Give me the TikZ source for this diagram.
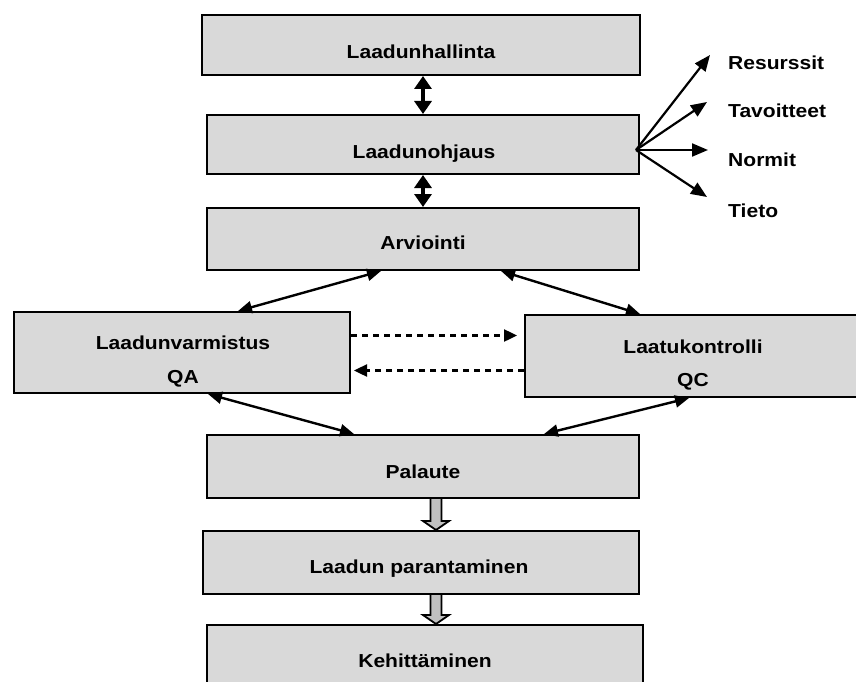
\documentclass[tikz,border=0pt]{standalone}
\usepackage{fontspec}
\setmainfont{Liberation Sans}[FakeStretch=1.12]
\usetikzlibrary{arrows.meta,calc}
\definecolor{boxgray}{RGB}{217,217,217}
\definecolor{arrowgray}{RGB}{192,192,192}

% hollow grey block arrow from the bottom of one box (#1) to a tip (#2)
\newcommand\blockarrow[2]{%
  \draw[blk] ($(#1)+(-5.5,0)$) -- ($(#2)+(-5.5,-9)$) -- ($(#2)+(-13,-9)$) -- (#2)
    -- ($(#2)+(13,-9)$) -- ($(#2)+(5.5,-9)$) -- ($(#1)+(5.5,0)$);}

\begin{document}
\begin{tikzpicture}[x=1pt,y=-1pt,
  box/.style={draw=black, line width=2pt, fill=boxgray, rectangle, inner sep=0pt},
  lbl/.style={font=\fontsize{18.8}{22}\selectfont\bfseries, inner sep=0pt,
              text height=13.5pt, text depth=0pt},
  bigdbl/.style={line width=4.5pt, {Triangle[length=13pt,width=17pt]}-{Triangle[length=13pt,width=17pt]}},
  dbl/.style={line width=2.4pt, {Triangle[length=14pt,width=12pt]}-{Triangle[length=14pt,width=12pt]}},
  fan/.style={line width=2.2pt, -{Triangle[length=16pt,width=13pt]}},
  dsh/.style={line width=2.4pt, dash pattern=on 6pt off 5pt, -{Triangle[length=13pt,width=12pt]}},
  blk/.style={draw=black, line width=1.8pt, fill=arrowgray, line join=miter}]
\useasboundingbox (0,0) rectangle (856,682);
\clip (0,0) rectangle (856,682);

% boxes
\node[box, minimum width=438pt, minimum height=60pt] (hall) at (421,45) {};
\node[box, minimum width=432pt, minimum height=59pt] (ohj) at (423,144.5) {};
\node[box, minimum width=432pt, minimum height=62pt] (arv) at (423,239) {};
\node[box, minimum width=336pt, minimum height=81pt] (qa) at (182,352.5) {};
\node[box, minimum width=345pt, minimum height=82pt] (qc) at (697.5,356) {};
\node[box, minimum width=432pt, minimum height=63pt] (pal) at (423,466.5) {};
\node[box, minimum width=436pt, minimum height=63pt] (par) at (421,562.5) {};
\node[box, minimum width=436pt, minimum height=75pt] (keh) at (425,662.5) {};

% box texts
\node[lbl] (thall) at (421,52) {Laadunhallinta};
\node[lbl] (tohj) at (424,152) {Laadunohjaus};
\node[lbl] (tarv) at (423,243) {Arviointi};
\node[lbl] (tqa1) at (183,343) {Laadunvarmistus};
\node[lbl] (tqa2) at (183,377) {QA};
\node[lbl] (tqc1) at (693,347) {Laatukontrolli};
\node[lbl] (tqc2) at (693,380) {QC};
\node[lbl] (tpal) at (423,472) {Palaute};
\node[lbl] (tpar) at (419,567) {Laadun parantaminen};
\node[lbl] (tkeh) at (425,661) {Kehittäminen};

% fan of arrows from Laadunohjaus
\node[lbl, anchor=west] (res) at (728,63) {Resurssit};
\node[lbl, anchor=west] (tav) at (728,110.5) {Tavoitteet};
\node[lbl, anchor=west] (nor) at (728,159.3) {Normit};
\node[lbl, anchor=west] (tie) at (728,211) {Tieto};
\coordinate (fanorg) at (636,150);
\coordinate (fres) at (710,55);
\coordinate (ftav) at (707,102);
\coordinate (fnor) at (708,150);
\coordinate (ftie) at (707,197);
\draw[fan] (fanorg) -- (fres);
\draw[fan] (fanorg) -- (ftav);
\draw[fan] (fanorg) -- (fnor);
\draw[fan] (fanorg) -- (ftie);

% vertical links at the top
\draw[bigdbl] (ohj.north |- hall.south) -- (ohj.north);
\draw[bigdbl] (ohj.south) -- (arv.north);

% Arviointi <-> QA / QC
\draw[dbl] ($(arv.south west)+(175,0)$) -- ($(qa.north west)+(225,0)$);
\draw[dbl] ($(arv.south west)+(295,0)$) -- ($(qc.north west)+(116,0)$);

% QA <-> QC, dashed
\draw[dsh, shorten >=7pt] ($(qa.north east)+(0,24.5)$) -- ($(qc.north west)+(0,21.5)$);
\draw[dsh, shorten >=3pt] ($(qc.north west)+(0,56.5)$) -- ($(qa.north east)+(0,59.5)$);

% QA / QC <-> Palaute
\draw[dbl] ($(qa.south west)+(195,0)$) -- ($(pal.north west)+(148,0)$);
\draw[dbl] ($(qc.south west)+(165,0)$) -- ($(pal.north west)+(338,0)$);

% block arrows down the chain
\coordinate (b1s) at ($(pal.south)+(13,0)$);
\coordinate (b1t) at ($(par.north)+(15,0)$);
\coordinate (b2s) at ($(par.south)+(15,0)$);
\coordinate (b2t) at ($(keh.north)+(11,0)$);
\blockarrow{b1s}{b1t}
\blockarrow{b2s}{b2t}
\end{tikzpicture}
\end{document}
